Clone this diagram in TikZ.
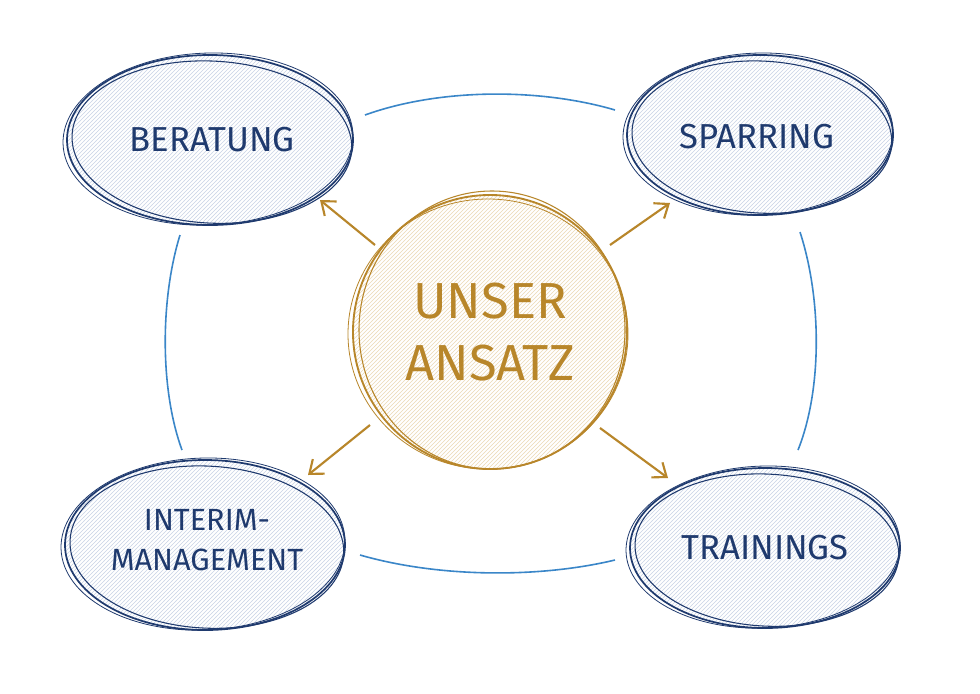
\documentclass[tikz,border=0pt]{standalone}
\usepackage{fontspec}
\setmainfont{Fira Sans}
\usetikzlibrary{patterns,arrows.meta}
\definecolor{navy}{HTML}{1F3A6E}
\definecolor{gold}{HTML}{B8862A}
\definecolor{lblue}{HTML}{3A86C8}
\definecolor{hatchb}{HTML}{C9D3E6}
\definecolor{hatchg}{HTML}{EBD9B5}
\begin{document}
\begin{tikzpicture}[x=0.75pt,y=-0.75pt,
  lbl/.style={font=\fontsize{26}{30}\selectfont, text=navy, align=center},
  pen/.style={draw=navy, line width=1.3pt},
  arr/.style={draw=gold, line width=1.6pt, -{Straight Barb[length=9pt,width=14pt]}},
  link/.style={draw=lblue, line width=1.2pt}]
\useasboundingbox[fill=white] (0,0) rectangle (980,693);
% ellipses
\foreach \n/\cx/\cy/\rx/\ry in {b/210/140/143/85, s/760/135/133/80, i/205/545/140/85, t/765/548/135/80}{
  \fill[pattern=north east lines, pattern color=hatchb] (\cx,\cy) ellipse [x radius=\rx, y radius=\ry];
  \draw[pen] (\cx,\cy) ellipse [x radius=\rx, y radius=\ry];
  \draw[pen, line width=0.8pt, rotate around={-3:(\cx,\cy)}] (\cx+2,\cy+2) ellipse [x radius=\rx-3, y radius=\ry-4];
  \draw[pen, line width=0.6pt, rotate around={2:(\cx,\cy)}] (\cx-2,\cy-1) ellipse [x radius=\rx+2, y radius=\ry+1];
  \node[lbl] (\n) at (\cx,\cy) {};
}
\node[lbl] (tb) at (212,140) {BERATUNG};
\node[lbl] (ts) at (757,137) {SPARRING};
\node[lbl, font=\fontsize{23}{30}\selectfont] (ti) at (207,540) {INTERIM-\\MANAGEMENT};
\node[lbl] (tt) at (765,548) {TRAININGS};
% center circle
\fill[pattern=north east lines, pattern color=hatchg] (490,332) circle (137);
\draw[gold, line width=1.4pt] (490,332) circle (137);
\draw[gold, line width=0.8pt] (492,330) ellipse [x radius=133, y radius=139];
\draw[gold, line width=0.6pt] (488,334) ellipse [x radius=140, y radius=135];
\node[font=\fontsize{38}{46}\selectfont, text=gold, align=center] (c) at (490,332) {UNSER\\ANSATZ};
% arrows
\coordinate (a1s) at (375,245); \coordinate (a1e) at (320,200);
\coordinate (a2s) at (610,245); \coordinate (a2e) at (670,203);
\coordinate (a3s) at (370,425); \coordinate (a3e) at (308,475);
\coordinate (a4s) at (600,428); \coordinate (a4e) at (668,478);
\draw[arr] (a1s) -- (a1e);
\draw[arr] (a2s) -- (a2e);
\draw[arr] (a3s) -- (a3e);
\draw[arr] (a4s) -- (a4e);
% links
\coordinate (l1a) at (365,115); \coordinate (l1b) at (615,110);
\coordinate (l2a) at (180,235); \coordinate (l2b) at (182,450);
\coordinate (l3a) at (800,232); \coordinate (l3b) at (798,450);
\coordinate (l4a) at (360,555); \coordinate (l4b) at (615,560);
\draw[link] (l1a) .. controls (440,88) and (540,88) .. (l1b);
\draw[link] (l2a) .. controls (160,300) and (160,390) .. (l2b);
\draw[link] (l3a) .. controls (822,300) and (822,390) .. (l3b);
\draw[link] (l4a) .. controls (440,578) and (540,578) .. (l4b);
\end{tikzpicture}
\end{document}
